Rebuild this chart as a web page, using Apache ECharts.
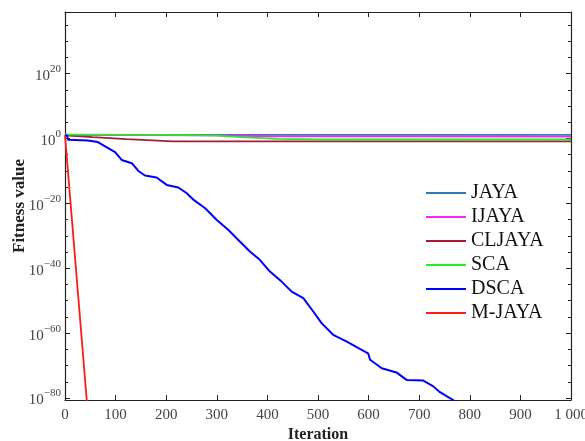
<!DOCTYPE html>
<html>
<head>
<meta charset="utf-8">
<style>
  html, body { margin: 0; padding: 0; background: #fff; }
  #chart { width: 585px; height: 441px; }
</style>
<script src="https://cdn.jsdelivr.net/npm/echarts@6/dist/echarts.min.js"></script>
</head>
<body>
<div id="chart"></div>
<script>
// values are log10(fitness)
var names = ["JAYA", "IJAYA", "CLJAYA", "SCA", "DSCA", "M-JAYA"];
var colors = ["#2a7ab8", "#ff22ff", "#a51d3a", "#22ee22", "#0000ff", "#ff1a1a"];

var jayaIter = [0, 1000];
var jayaLog = [1.1, 1.1];

var ijayaIter = [0, 300, 400, 1000];
var ijayaLog = [1.1, 1.0, 0.7, 0.6];

var cljayaIter = [0, 55, 122, 213, 400, 1000];
var cljayaLog = [1.0, 0.4, -0.2, -0.9, -0.9, -0.9];

var scaIter = [0, 200, 300, 350, 420, 500, 1000];
var scaLog = [1.2, 1.1, 0.9, 0.4, -0.1, -0.3, -0.3];

var dscaIter = [0, 4, 6, 45, 65, 80, 99, 112, 132, 145, 158, 181, 201, 224, 240, 255, 277, 300, 323, 346, 366, 385, 405, 428, 448, 471, 491, 507, 530, 557, 580, 599, 603, 626, 655, 675, 708, 728, 741, 764, 780];
var dscaLog = [1.0, 0.9, -0.4, -0.6, -1.1, -2.5, -4.2, -6.6, -7.6, -10, -11.4, -12, -14.3, -15.1, -16.8, -19.0, -21.5, -25.1, -28.2, -31.8, -34.9, -37.4, -41, -44.1, -47.2, -49.2, -53.4, -56.9, -60.5, -62.6, -64.6, -66.2, -68.2, -70.8, -72.1, -74.4, -74.6, -76.4, -78.2, -80.3, -82];

var mjayaIter = [0, 10, 20, 30, 40, 50];
var mjayaLog = [1.0, -18, -37, -56, -75, -94];

var yMajor = [-80, -60, -40, -20, 0, 20];
var yMinor = [-75, -70, -65, -55, -50, -45, -35, -30, -25, -15, -10, -5, 5, 10, 15, 25, 30, 35];

var FONT = "'Liberation Serif', 'DejaVu Serif', serif";

function pairs(xs, ys) {
  return xs.map(function (x, i) { return [x, ys[i]]; });
}
var seriesData = [
  pairs(jayaIter, jayaLog),
  pairs(ijayaIter, ijayaLog),
  pairs(cljayaIter, cljayaLog),
  pairs(scaIter, scaLog),
  pairs(dscaIter, dscaLog),
  pairs(mjayaIter, mjayaLog)
];

function yAxisOf(pos, ticks, len, showLabel, showLine) {
  return {
    type: "value",
    position: pos,
    min: -80.6,
    max: 39,
    splitLine: { show: false },
    axisLine: { show: showLine, lineStyle: { color: "#222", width: 1.2 } },
    axisTick: { show: true, inside: true, length: len, customValues: ticks,
      lineStyle: { color: "#222", width: 1 } },
    axisLabel: {
      show: showLabel,
      customValues: yMajor,
      margin: 4,
      formatter: function (v) {
        var e = v < 0 ? "\u2212" + Math.abs(v) : String(v);
        return "{b|10}{s|" + e + "}";
      },
      rich: {
        b: { fontFamily: FONT, fontSize: 15, color: "#444", verticalAlign: "bottom", lineHeight: 20 },
        s: { fontFamily: FONT, fontSize: 11, color: "#444", verticalAlign: "top", lineHeight: 20 }
      }
    }
  };
}

function xAxisOf(pos, showLabel) {
  return {
    type: "value",
    position: pos,
    min: 0,
    max: 1000,
    interval: 100,
    splitLine: { show: false },
    axisLine: { show: true, onZero: false, lineStyle: { color: "#222", width: 1.2 } },
    axisTick: { show: true, inside: true, length: 5, lineStyle: { color: "#222" } },
    axisLabel: {
      show: showLabel,
      margin: 8,
      fontFamily: FONT,
      fontSize: 15,
      color: "#444",
      formatter: function (v) { return v === 1000 ? "1 000" : String(v); }
    },
    name: showLabel ? "Iteration" : "",
    nameLocation: "middle",
    nameGap: 27,
    nameMoveOverlap: false,
    nameTextStyle: { fontFamily: FONT, fontSize: 16, fontWeight: "bold", color: "#222" }
  };
}

var chart = echarts.init(document.getElementById("chart"), null, { renderer: "canvas" });

var yAxes = [
  yAxisOf("left", yMajor, 5, true, true),
  yAxisOf("left", yMinor, 3, false, false),
  yAxisOf("right", yMajor, 5, false, true),
  yAxisOf("right", yMinor, 3, false, false)
];
yAxes[0].name = "Fitness value";
yAxes[0].nameLocation = "middle";
yAxes[0].nameGap = 37;
yAxes[0].nameMoveOverlap = false;
yAxes[0].nameTextStyle = { fontFamily: FONT, fontSize: 17, fontWeight: "bold", color: "#222" };

var option = {
  animation: false,
  backgroundColor: "#fff",
  grid: { left: 65, right: 14, top: 12, bottom: 41, containLabel: false, outerBoundsMode: "none" },
  xAxis: [xAxisOf("bottom", true), xAxisOf("top", false)],
  yAxis: yAxes,
  legend: {
    orient: "vertical",
    left: 421,
    top: 178,
    itemWidth: 40,
    itemHeight: 14,
    itemGap: 4,
    icon: "path://M0,0 L40,0 L40,2 L0,2 Z",
    symbolKeepAspect: true,
    data: names,
    textStyle: { fontFamily: FONT, fontSize: 20, lineHeight: 20, color: "#111" }
  },
  series: names.map(function (n, i) {
    return {
      name: n,
      type: "line",
      xAxisIndex: 0,
      yAxisIndex: 0,
      data: seriesData[i],
      symbol: "none",
      clip: true,
      color: colors[i],
      lineStyle: { width: i === 4 ? 2 : 1.8, color: colors[i] }
    };
  })
};
chart.setOption(option);
</script>
</body>
</html>
